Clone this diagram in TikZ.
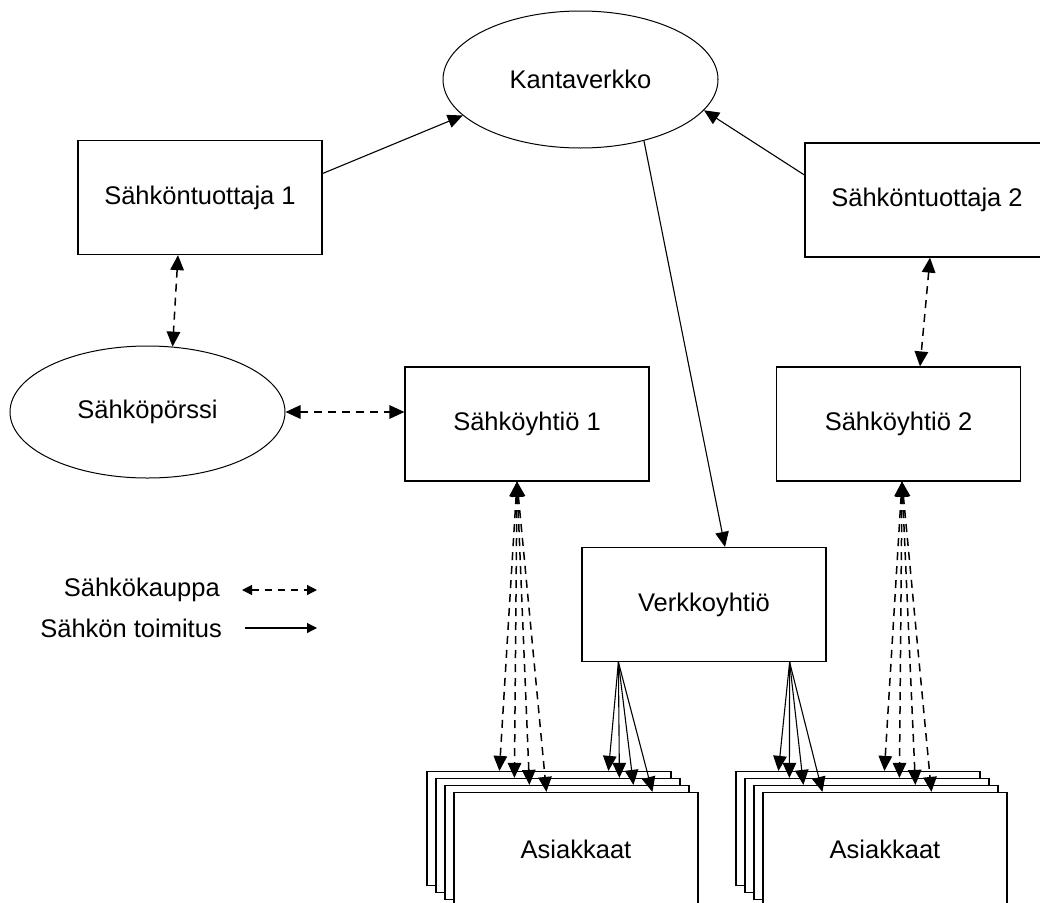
\documentclass[tikz,border=0pt]{standalone}
\usepackage{fontspec}
\setmainfont{Liberation Sans}
\usetikzlibrary{shapes.geometric,arrows.meta,calc}

\begin{document}
\begin{tikzpicture}[x=1pt,y=-1pt,
  every node/.style={font=\fontsize{25.5}{30}\selectfont},
  box/.style={draw, rectangle, line width=1.2pt, minimum width=244pt,
    minimum height=114pt, inner sep=0pt, fill=white},
  oval/.style={draw, ellipse, line width=1pt, inner sep=0pt, fill=white},
  supply/.style={line width=1.1pt, -{Triangle[length=15pt,width=13.5pt]}},
  trade/.style={line width=1.5pt, dash pattern=on 8pt off 6pt,
    {Triangle[length=15pt,width=13.5pt]}-{Triangle[length=15pt,width=13.5pt]}},
  legtext/.style={anchor=east, inner sep=0pt},
  legtrade/.style={line width=1.3pt, dash pattern=on 7pt off 6pt,
    {Triangle[length=10pt,width=10pt]}-{Triangle[length=10pt,width=10pt]}},
  legsupply/.style={line width=1.1pt, -{Triangle[length=10pt,width=10pt]}}]

\useasboundingbox (0,0) rectangle (1040,902);
\fill[white] (0,0) rectangle (1040,902);
\clip (0,0) rectangle (1040,902);

% main players
\node[oval, minimum width=275pt, minimum height=137pt] (kv) at (580.5,79.5) {Kantaverkko};
\node[box] (st1) at (200,197.5) {Sähköntuottaja 1};
\node[box] (st2) at (927,200) {Sähköntuottaja 2};
\node[oval, minimum width=275pt, minimum height=132pt] (sp) at (147.5,412) {Sähköpörssi};
\node[box] (sy1) at (527,424) {Sähköyhtiö 1};
\node[box] (sy2) at (898.5,424) {Sähköyhtiö 2};
\node[box] (vk) at (704,604.5) {Verkkoyhtiö};

% customer stacks
\node[box] (a1) at (549,828.5) {};
\node[box] (a2) at (558,835.5) {};
\node[box] (a3) at (567,842.5) {};
\node[box] (a4) at (576,849.5) {Asiakkaat};
\node[box] (b1) at (858,828.5) {};
\node[box] (b2) at (867,835.5) {};
\node[box] (b3) at (876,842.5) {};
\node[box] (b4) at (885,849.5) {Asiakkaat};

% power delivery
\draw[supply] ([yshift=24pt]st1.east) -- (kv.197.5);
\draw[supply] ([yshift=25pt]st2.west) -- (kv.346.2);
\draw[supply] (kv.316.3) -- ([xshift=21pt]vk.north);

\draw[supply] ([xshift=37pt]vk.south west) -- ([xshift=182pt]a1.north west);
\draw[supply] ([xshift=37pt]vk.south west) -- ([xshift=184pt]a2.north west);
\draw[supply] ([xshift=37pt]vk.south west) -- ([xshift=189pt]a3.north west);
\draw[supply] ([xshift=37pt]vk.south west) -- ([xshift=199pt]a4.north west);

\draw[supply] ([xshift=-37pt]vk.south east) -- ([xshift=43pt]b1.north west);
\draw[supply] ([xshift=-37pt]vk.south east) -- ([xshift=45pt]b2.north west);
\draw[supply] ([xshift=-37pt]vk.south east) -- ([xshift=50pt]b3.north west);
\draw[supply] ([xshift=-37pt]vk.south east) -- ([xshift=60pt]b4.north west);

% electricity trade
\draw[trade] ([xshift=-22pt]st1.south) -- (sp.69);
\draw[trade] (sp.east) -- (sy1.west |- sp.east);
\draw[trade] ([xshift=3pt]st2.south) -- ([xshift=21.5pt]sy2.north);

\draw[trade] ([xshift=-10pt]sy1.south) -- ([xshift=73pt]a1.north west);
\draw[trade] ([xshift=-10pt]sy1.south) -- ([xshift=79pt]a2.north west);
\draw[trade] ([xshift=-10pt]sy1.south) -- ([xshift=85pt]a3.north west);
\draw[trade] ([xshift=-10pt]sy1.south) -- ([xshift=93pt]a4.north west);

\draw[trade] ([xshift=3.5pt]sy2.south) -- ([xshift=149pt]b1.north west);
\draw[trade] ([xshift=3.5pt]sy2.south) -- ([xshift=155pt]b2.north west);
\draw[trade] ([xshift=3.5pt]sy2.south) -- ([xshift=162pt]b3.north west);
\draw[trade] ([xshift=3.5pt]sy2.south) -- ([xshift=169pt]b4.north west);

% legend
\node[legtext] (ltrade) at (220,590) {Sähkökauppa};
\node[legtext] (ldeliv) at (222,628) {Sähkön toimitus};
\coordinate (lt1) at ([xshift=22pt]ltrade.east);
\coordinate (lt2) at ([xshift=97pt]ltrade.east);
\coordinate (ld1) at ([xshift=23pt]ldeliv.east);
\coordinate (ld2) at ([xshift=95pt]ldeliv.east);
\draw[legtrade] (lt1) -- (lt2);
\draw[legsupply] (ld1) -- (ld2);
\end{tikzpicture}
\end{document}
